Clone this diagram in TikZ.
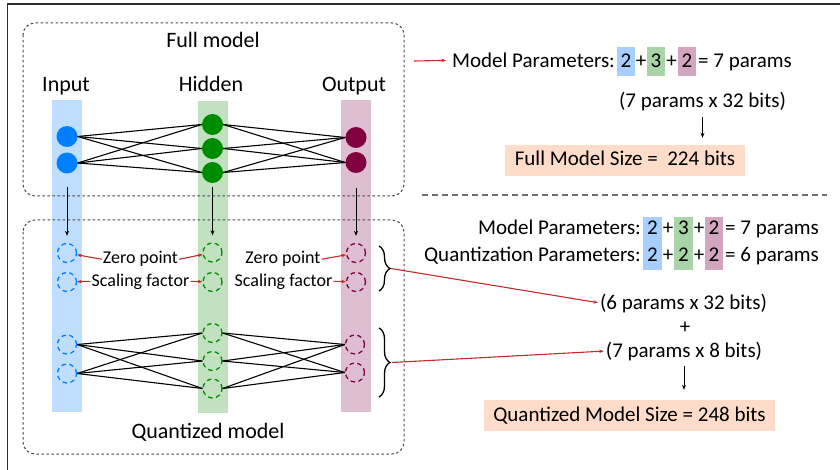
\documentclass[tikz,border=0pt]{standalone}
\usepackage{fontspec}
\setmainfont{Carlito}
\usetikzlibrary{arrows.meta,decorations.pathreplacing}
\definecolor{inputc}{RGB}{0,128,255}
\definecolor{hiddenc}{RGB}{0,140,0}
\definecolor{outputc}{RGB}{128,0,64}
\definecolor{bandB}{RGB}{191,221,253}
\definecolor{bandG}{RGB}{193,225,193}
\definecolor{bandP}{RGB}{222,191,210}
\definecolor{boxB}{RGB}{166,206,255}
\definecolor{boxG}{RGB}{168,212,168}
\definecolor{boxP}{RGB}{210,166,192}
\definecolor{peach}{RGB}{253,220,202}
\definecolor{redc}{RGB}{200,40,40}
\definecolor{dashc}{RGB}{70,70,80}
\definecolor{framec}{RGB}{45,45,45}
\definecolor{sepc}{RGB}{110,110,110}
\begin{document}
\begin{tikzpicture}[x=1pt,y=-1pt,
  lbl/.style={font=\fontsize{22}{24}\selectfont, inner sep=0pt, anchor=base},
  txt/.style={font=\fontsize{21}{24}\selectfont, inner sep=0pt, anchor=base},
  small/.style={font=\fontsize{18}{20}\selectfont, inner sep=1pt, anchor=base},
  neuron/.style={circle, minimum size=21pt, inner sep=0pt},
  qneuron/.style={circle, draw, line width=1.3pt, minimum size=19pt, inner sep=0pt, dash pattern=on 4.5pt off 3.5pt},
  frame/.style={draw=dashc, line width=1pt, dash pattern=on 2.5pt off 2.5pt, rounded corners=12pt},
  conn/.style={line width=1.1pt, black},
  redarrow/.style={draw=redc, line width=1.1pt, -{Stealth[length=4.5pt,width=3.5pt]}},
  downarrow/.style={line width=1pt, -{Stealth[length=5pt,width=4pt]}},
  pbox/.style={font=\fontsize{21}{24}\selectfont, inner sep=0pt, minimum width=18pt, text height=20.5pt, text depth=8.5pt, anchor=base},
  tallbox/.style={inner sep=0pt, minimum width=18.5pt, minimum height=53pt},
  sizebox/.style={font=\fontsize{21}{24}\selectfont, fill=peach, inner xsep=0pt, inner ysep=0pt, text height=21pt, text depth=10pt, anchor=base},
  brace/.style={decorate, decoration={brace, amplitude=11pt}, line width=1.3pt}
]
\useasboundingbox (0,0) rectangle (840,470);
% outer frame
\draw[framec, line width=1.5pt] (7.5,470) -- (7.5,4) -- (840,4);
% bands
\fill[bandB] (52,100) rectangle (82,412);
\fill[bandG] (198,101) rectangle (228,413);
\fill[bandP] (341,100) rectangle (371,412);
% dashed frames
\draw[frame] (23,23) rectangle (404,196);
\draw[frame] (23,220) rectangle (404,454);
% titles
\node[lbl] (fm) at (213,48) {Full model};
\node[lbl] (tin) at (66,92) {Input};
\node[lbl] (thid) at (211,92) {Hidden};
\node[lbl] (tout) at (354,92) {Output};
\node[lbl] (qm) at (208,438) {Quantized model};
% full network
\node[neuron, fill=inputc] (i1) at (67,136.5) {};
\node[neuron, fill=inputc] (i2) at (67,163) {};
\node[neuron, fill=hiddenc] (h1) at (212.5,124.5) {};
\node[neuron, fill=hiddenc] (h2) at (212.5,148.5) {};
\node[neuron, fill=hiddenc] (h3) at (212.5,172.5) {};
\node[neuron, fill=outputc] (o1) at (356,137.5) {};
\node[neuron, fill=outputc] (o2) at (356,162.5) {};
\foreach \a in {i1,i2} \foreach \b in {h1,h2,h3} \draw[conn] (\a.east) -- (\b.west);
\foreach \a in {h1,h2,h3} \foreach \b in {o1,o2} \draw[conn] (\a.east) -- (\b.west);
% quantization parameter neurons
\node[qneuron, draw=inputc] (qz1) at (67,253) {};
\node[qneuron, draw=inputc] (qs1) at (67,282) {};
\node[qneuron, draw=hiddenc] (qz2) at (212.5,252.5) {};
\node[qneuron, draw=hiddenc] (qs2) at (212.5,282) {};
\node[qneuron, draw=outputc] (qz3) at (356,253) {};
\node[qneuron, draw=outputc] (qs3) at (356,282) {};
% quantized network
\node[qneuron, draw=inputc] (qi1) at (67,344.5) {};
\node[qneuron, draw=inputc] (qi2) at (67,373.5) {};
\node[qneuron, draw=hiddenc] (qh1) at (212.5,333) {};
\node[qneuron, draw=hiddenc] (qh2) at (212.5,361) {};
\node[qneuron, draw=hiddenc] (qh3) at (212.5,388.5) {};
\node[qneuron, draw=outputc] (qo1) at (355,344.5) {};
\node[qneuron, draw=outputc] (qo2) at (355,372.5) {};
\foreach \a in {qi1,qi2} \foreach \b in {qh1,qh2,qh3} \draw[conn] (\a.east) -- (\b.west);
\foreach \a in {qh1,qh2,qh3} \foreach \b in {qo1,qo2} \draw[conn] (\a.east) -- (\b.west);
% down arrows
\draw[downarrow, shorten <=13.5pt, shorten >=7pt] (i2) -- (qz1);
\draw[downarrow, shorten <=4pt, shorten >=7pt] (h3) -- (qz2);
\draw[downarrow, shorten <=15pt, shorten >=7pt] (o2) -- (qz3);
% labels
\node[small] (zl) at (140.5,264) {Zero point};
\node[small] (sl) at (140.5,286) {Scaling factor};
\node[small] (zr) at (283,264) {Zero point};
\node[small] (sr) at (283.5,286) {Scaling factor};
\draw[redarrow] (zl.west) -- (qz1);
\draw[redarrow] (zl.east) -- (qz2);
\draw[redarrow] (sl.west) -- (qs1);
\draw[redarrow] (sl.east) -- (qs2);
\draw[redarrow] (zr.east) -- (qz3);
\draw[redarrow] (sr.east) -- (qs3);
% braces
\draw[brace] (379,246) -- (379,291);
\draw[brace] (379,328) -- (379,397);
\coordinate (bt1) at (391,268.5);
\coordinate (bt2) at (392,362.5);
% top right block
\coordinate (ta) at (414,61);
\node[txt, anchor=base east] (mp1) at (615,67.5) {Model Parameters:};
\node[pbox, fill=boxB] (b1) at (626,67.5) {2};
\node[txt] (p1) at (641,67.5) {+};
\node[pbox, fill=boxG] (b2) at (656,67.5) {3};
\node[txt] (p2) at (671.5,67.5) {+};
\node[pbox, fill=boxP] (b3) at (687,67.5) {2};
\node[txt, anchor=base west] (eq1) at (698,67.5) {= 7 params};
\draw[redarrow, shorten >=6pt] (ta) -- (mp1.west);
\node[txt] (c7) at (702.5,108) {(7 params x 32 bits)};
\node[sizebox, minimum width=240pt] (fs) at (625,166) {Full Model Size =\ \ 224 bits};
\draw[downarrow, shorten <=5pt, shorten >=7pt] (c7.south) -- (c7.south |- fs.north);
% separator
\coordinate (s1) at (422,195);
\coordinate (s2) at (827,195);
\draw[sepc, line width=1.2pt, dash pattern=on 6pt off 4pt] (s1) -- (s2);
% lower right block
\node[tallbox, fill=boxB] (qb1) at (652.5,243.5) {};
\node[tallbox, fill=boxG] (qb2) at (683.5,243.5) {};
\node[tallbox, fill=boxP] (qb3) at (714,243.5) {};
\node[txt, anchor=base east] (mp2) at (641,234.5) {Model Parameters:};
\node[txt] (d11) at (652.5,234.5) {2};
\node[txt] (pp11) at (668,234.5) {+};
\node[txt] (d12) at (683.5,234.5) {3};
\node[txt] (pp12) at (699,234.5) {+};
\node[txt] (d13) at (714,234.5) {2};
\node[txt, anchor=base west] (eq2) at (725,234.5) {= 7 params};
\node[txt, anchor=base east] (qp) at (641,261.5) {Quantization Parameters:};
\node[txt] (d21) at (652.5,261.5) {2};
\node[txt] (pp21) at (668,261.5) {+};
\node[txt] (d22) at (683.5,261.5) {2};
\node[txt] (pp22) at (699,261.5) {+};
\node[txt] (d23) at (714,261.5) {2};
\node[txt, anchor=base west] (eq3) at (725,261.5) {= 6 params};
\node[txt] (q6) at (683.5,309) {(6 params x 32 bits)};
\node[txt] (pl) at (685,333) {+};
\node[txt] (q7) at (684,357) {(7 params x 8 bits)};
\node[sizebox, minimum width=291pt] (qs) at (629.5,421) {Quantized Model Size = 248 bits};
\draw[downarrow, shorten <=5pt, shorten >=10pt] (q7.south) -- (q7.south |- qs.north);
\draw[redarrow, shorten >=2pt] (bt1) -- (q6.west);
\draw[redarrow, shorten >=2pt] (bt2) -- (q7.west);
\end{tikzpicture}
\end{document}
